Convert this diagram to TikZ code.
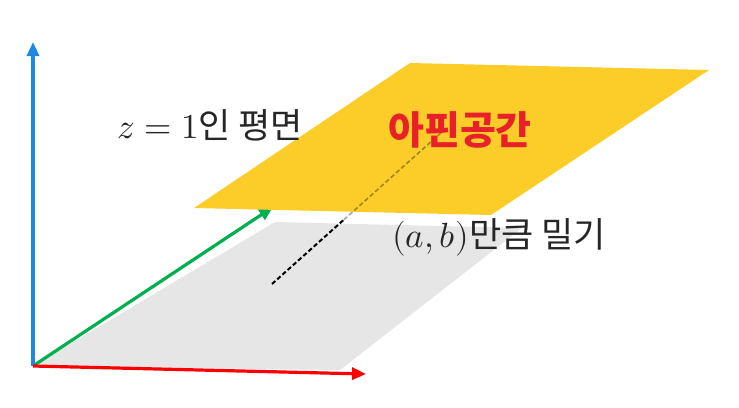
\documentclass[tikz,border=0pt]{standalone}
\usepackage{unicode-math}
\setmathfont{Latin Modern Math}
\newfontfamily\kor{Noto Sans CJK KR}
\usepackage{tikz}
\usetikzlibrary{arrows.meta,positioning,calc}
\definecolor{axisblue}{RGB}{30,136,229}
\definecolor{axisgreen}{RGB}{0,176,80}
\definecolor{axisred}{RGB}{255,0,0}
\definecolor{planegold}{RGB}{252,204,41}
\definecolor{planegray}{RGB}{230,230,230}
\definecolor{labelred}{RGB}{232,32,42}
\tikzset{
  axis/.style={line width=3.2pt, -{Triangle[length=14pt,width=12pt]}},
  lbl/.style={font=\kor\fontsize{35}{38}\selectfont, text=black!85, inner sep=0pt}
}

\begin{document}
\begin{tikzpicture}[x=1pt, y=-1pt]
    \useasboundingbox (0,0) rectangle (739,407);
    % points
    \coordinate (O) at (33,366);
    \coordinate (zend) at (33,42);
    \coordinate (xend) at (366,374);
    \coordinate (yend) at (273,207);
    \coordinate (shiftlow) at (272,284);
    \coordinate (shifthigh) at (443,131);
    % planes
    \fill[planegray] (O) -- (275,222) -- (522,228) -- (340,370) -- cycle;
    \draw[dash pattern=on 4.5pt off 2.5pt, line width=2pt] (shiftlow) -- ($(shiftlow)!0.42!(shifthigh)$);
    \draw[axis, draw=axisgreen, fill=axisgreen] (O) -- (yend);
    \fill[planegold] (194,208) -- (410,63) -- (709,70) -- (491,215) -- cycle;
    \draw[dash pattern=on 4.5pt off 2.5pt, line width=1.6pt, opacity=0.35] ($(shiftlow)!0.42!(shifthigh)$) -- (shifthigh);
    % axes
    \draw[axis, draw=axisblue, fill=axisblue] (O) -- (zend);
    \draw[axis, draw=axisred, fill=axisred] (O) -- (xend);
    % labels
    \node[lbl] (plane) at (210,125) {$z=1$인 평면};
    \node[lbl, font=\kor\bfseries\fontsize{39}{42}\selectfont, text=labelred] (affine) at (460,130) {아핀공간};
    \node[lbl] (shift) at (499,237) {$(a,b)$만큼 밀기};
\end{tikzpicture}
\end{document}
